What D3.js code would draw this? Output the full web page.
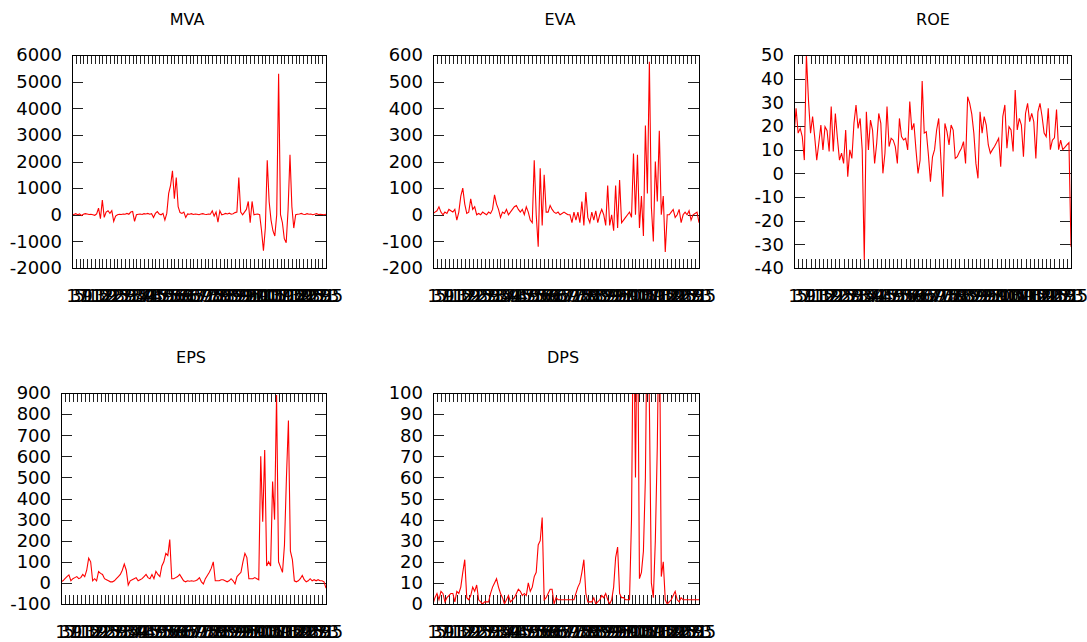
<!DOCTYPE html>
<html><head><meta charset="utf-8">
<script src="https://cdn.jsdelivr.net/npm/d3@7/dist/d3.min.js"></script>
<style>
body{margin:0;background:#fff;}
svg{display:block;}
text{font-family:"DejaVu Sans",Verdana,sans-serif;fill:#000;}
</style></head>
<body>
<svg id="chart" width="1087" height="642"></svg>
<script>
// ---- data ----
const mva = [20,10,40,0,30,-30,20,40,30,10,20,0,-20,30,
 250,-150,550,-100,100,150,50,150,-250,-50,
 0,20,10,30,20,50,20,100,
 120,-250,0,
 20,30,10,40,30,50,20,40,
 -100,50,120,30,0,50,-200,50,
 800,1100,1650,600,1400,300,80,50,100,-100,30,
 20,40,10,30,20,0,30,40,20,10,30,20,
 150,-50,100,-280,150,0,
 20,50,30,60,20,40,80,
 100,1400,100,0,100,200,500,-300,500,0,20,30,0,
 -600,-1350,-500,2050,500,-200,-600,-800,0,5300,0,-300,-900,-1050,200,2250,300,-500,0,
 20,30,50,20,10,40,20,30,0,20,40,10,20,10,0,20];

const eva = [5,10,15,30,10,0,10,5,20,15,10,20,
 -20,10,70,100,40,5,10,60,20,30,0,
 5,0,10,5,0,10,5,20,
 75,40,20,-10,10,5,20,0,
 10,20,30,35,20,10,20,0,30,
 10,-20,-30,205,0,-120,175,-40,150,10,10,35,20,
 10,5,10,0,5,10,5,0,0,
 -30,10,-20,10,-30,50,-40,85,-10,-30,10,-20,15,-30,0,20,0,
 -40,110,-40,0,-60,110,-50,130,-30,-20,-10,0,10,-10,
 230,0,225,-50,70,-80,335,80,575,30,-100,200,50,315,0,70,-140,0,
 0,10,20,-10,0,20,-30,0,10,0,15,-20,0,5,10,-30];

const roe = [16,27.5,17,19,15.5,5.6,50,31,17,24,15.5,5.6,12.7,20.4,9.9,19.7,18,9.2,28.2,9.2,
 25.3,14.8,5.6,8.5,4.2,18.3,-1.4,9.9,6.3,21.1,28.9,19,23.2,9.9,-36.6,26,9.9,22.5,18.3,4.2,
 12.7,25.3,21.1,0,8.5,28.2,11.3,14.8,14,11.3,4.2,23.2,15.5,14.1,14.8,9.9,30.3,18.3,21.1,10,
 0,5.6,39,17,17.6,8,-3.5,7,10,18.3,23.2,7,-9.9,21.1,17.6,12,20.4,18.3,6.3,7,
 9,10.6,13.4,4.2,32.4,29.6,25,17,4.2,-2.1,26,17,24,20.4,12,8.5,10,11.3,13,14.8,
 2.8,24,28.9,10.6,19.7,18.3,9.2,35.2,18.3,23.2,20.4,7,25.3,29.6,21.8,25.3,21.8,6.3,26,29.6,
 24,17,15.5,27.5,10,14,15,27,10,14,10,11,12,13,-31];

const eps = [5,10,20,30,38,10,20,25,30,20,25,40,30,60,117,100,10,20,10,54,
 45,40,20,15,10,5,5,10,20,30,40,60,89,60,-10,10,15,20,25,10,
 15,20,30,40,25,20,40,20,55,40,30,80,100,140,130,205,20,20,25,30,
 40,25,10,5,10,8,10,8,10,15,25,5,-5,20,35,50,70,100,10,10,
 10,15,15,10,5,10,20,10,-5,30,40,50,100,140,120,20,20,20,25,20,
 15,600,290,630,80,100,80,480,300,890,100,75,50,180,500,770,150,110,10,5,
 10,20,35,15,5,10,20,10,15,10,15,10,10,5,-25];

const dps = [0,3,5,2,6,5,1,3,4,5,5,1,6,5,8,15,21,3,2,4,
 8,6,9,2,1,0,1,1,1,5,8,10,12,8,5,3,0,2,4,1,
 2,3,5,7,6,4,5,4,10,6,8,13,15,28,30,41,2,3,5,7,
 7,0,3,2,2,2,2,2,2,2,2,2,5,8,10,15,21,5,1,1,
 1,3,0,1,2,4,3,5,2,0,2,8,22,27,5,3,3,2,2,2,
 40,150,60,150,12,15,25,60,150,95,10,3,30,75,150,13,20,2,0,1,
 2,4,6,2,1,3,2,2,2,2,2,2,2,2,2];

const xLabels = d3.range(1, 136).map(String);      // category labels 1..135
const xTickEvery = 2;
const titles = ["MVA","EVA","ROE","EPS","DPS"];
const yTicksMVA = [-2000,-1000,0,1000,2000,3000,4000,5000,6000];
const yTicksEVA = [-200,-100,0,100,200,300,400,500,600];
const yTicksROE = [-40,-30,-20,-10,0,10,20,30,40,50];
const yTicksEPS = [-100,0,100,200,300,400,500,600,700,800,900];
const yTicksDPS = [0,10,20,30,40,50,60,70,80,90,100];

// ---- layout ----
const panels = [
  {title:titles[0], data:mva, ticks:yTicksMVA, l:72,  r:326,  t:55,  b:268, tx:187},
  {title:titles[1], data:eva, ticks:yTicksEVA, l:433, r:699,  t:55,  b:268, tx:560},
  {title:titles[2], data:roe, ticks:yTicksROE, l:794, r:1071, t:55,  b:268, tx:933},
  {title:titles[3], data:eps, ticks:yTicksEPS, l:61,  r:326,  t:393, b:604, tx:191},
  {title:titles[4], data:dps, ticks:yTicksDPS, l:433, r:699,  t:393, b:604, tx:563},
];

const svg = d3.select("#chart");
const tickCol = "#222";

panels.forEach((p, pi) => {
  const g = svg.append("g");
  const x = d3.scaleLinear().domain([1, xLabels.length]).range([p.l, p.r]);
  const y = d3.scaleLinear().domain([p.ticks[0], p.ticks[p.ticks.length-1]]).range([p.b, p.t]);
  const xt = xLabels.map((d,i)=>i+1).filter((v,i)=> i % xTickEvery === 0);

  // title
  g.append("text").attr("x", p.tx).attr("y", (p.t < 100 ? 19 : 357)).attr("dy","0.35em")
    .attr("text-anchor","middle").style("font-size","16px").text(p.title);

  // clip
  const cid = "clip"+pi;
  svg.append("clipPath").attr("id",cid).append("rect")
    .attr("x",p.l).attr("y",p.t).attr("width",p.r-p.l).attr("height",p.b-p.t);

  // y ticks (both sides, inward)
  const yLen = 11, xLen = 9;
  g.selectAll(".yl").data(p.ticks).join("line")
    .attr("x1",p.l).attr("x2",p.l+yLen)
    .attr("y1",d=>Math.round(y(d))+0.5).attr("y2",d=>Math.round(y(d))+0.5)
    .attr("stroke",tickCol).attr("stroke-width",1);
  g.selectAll(".yr").data(p.ticks).join("line")
    .attr("x1",p.r-yLen).attr("x2",p.r)
    .attr("y1",d=>Math.round(y(d))+0.5).attr("y2",d=>Math.round(y(d))+0.5)
    .attr("stroke",tickCol).attr("stroke-width",1);
  g.selectAll(".ytxt").data(p.ticks).join("text")
    .attr("x",p.l-10).attr("y",d=>y(d)).attr("dy","0.35em")
    .attr("text-anchor","end").style("font-size","18px").text(d=>String(d));

  // x ticks (bottom and top, inward)
  g.selectAll(".xb").data(xt).join("line")
    .attr("x1",d=>Math.round(x(d))+0.5).attr("x2",d=>Math.round(x(d))+0.5)
    .attr("y1",p.b).attr("y2",p.b-xLen).attr("stroke",tickCol);
  g.selectAll(".xtp").data(xt).join("line")
    .attr("x1",d=>Math.round(x(d))+0.5).attr("x2",d=>Math.round(x(d))+0.5)
    .attr("y1",p.t).attr("y2",p.t+xLen).attr("stroke",tickCol);
  g.selectAll(".xtxt").data(xt).join("text")
    .attr("x",d=>x(d)).attr("y",p.b+28).attr("dy","0.35em")
    .attr("text-anchor","middle").style("font-size","18px").text(d=>xLabels[d-1]);

  // line
  const line = d3.line().x((d,i)=>x(i+1)).y(d=>y(d));
  g.append("path").datum(p.data).attr("d",line)
    .attr("fill","none").attr("stroke","#ff0000").attr("stroke-width",1.1)
    .attr("clip-path","url(#"+cid+")");

  // border
  g.append("rect").attr("x",p.l+0.5).attr("y",p.t+0.5)
    .attr("width",p.r-p.l).attr("height",p.b-p.t)
    .attr("fill","none").attr("stroke","#000").attr("stroke-width",1);
});
</script>
</body></html>
